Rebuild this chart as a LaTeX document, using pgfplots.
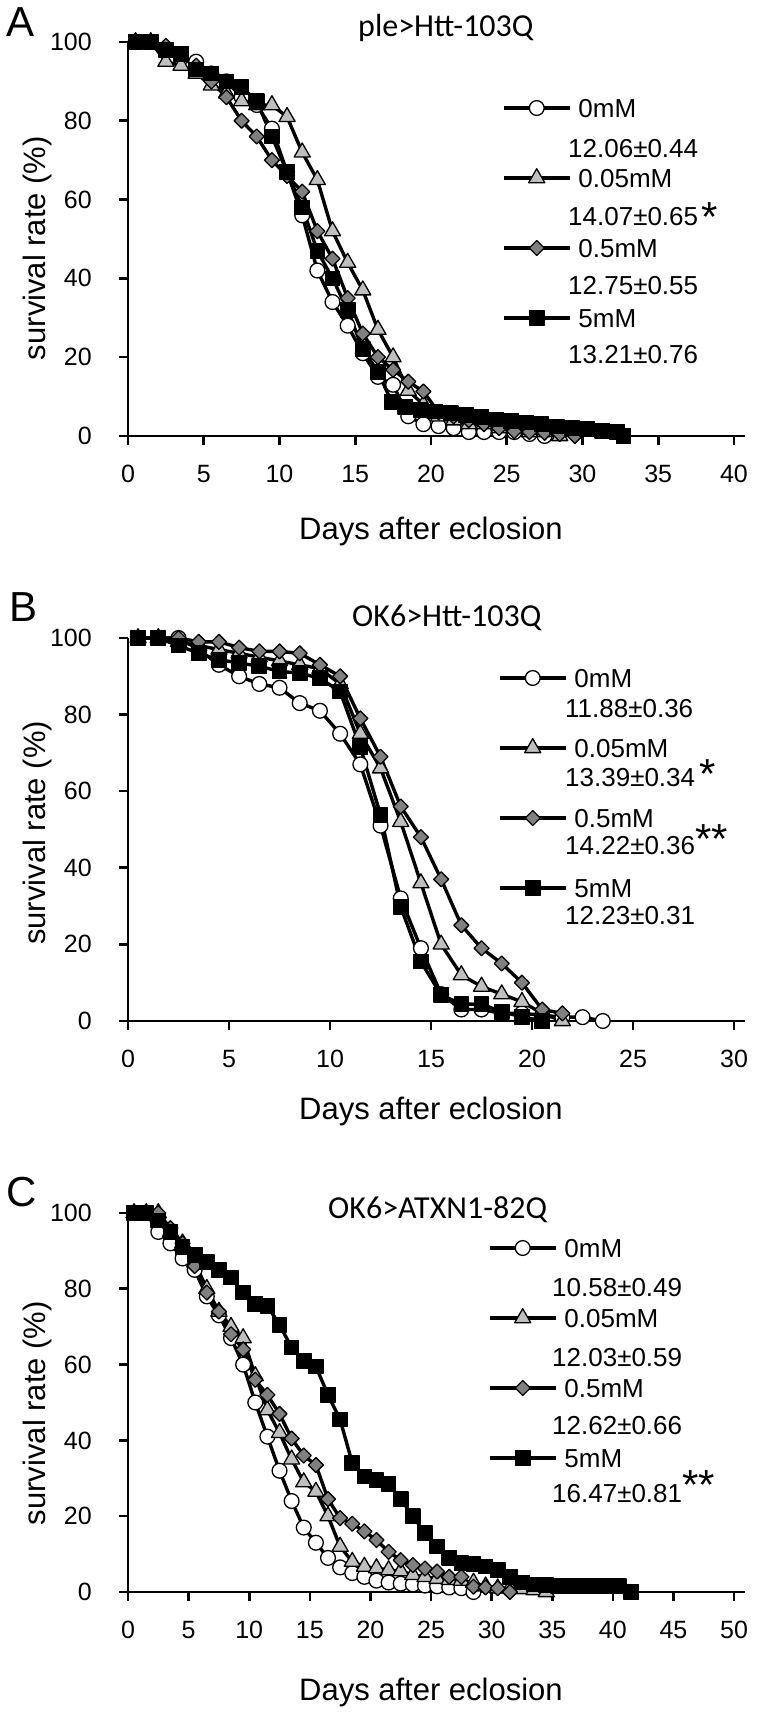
\documentclass[border=0pt]{standalone}
\usepackage{fontspec}
\setmainfont{Liberation Sans}
\newfontfamily\titlefont{Carlito}
\usepackage{pgfplots}
\pgfplotsset{compat=1.18}

\definecolor{lgray}{HTML}{BFBFBF}
\definecolor{dgray}{HTML}{808080}

\newcommand\fs[1]{\fontsize{#1}{#1}\selectfont}
\newcommand\sig[2]{\raisebox{#1}{\fs{42}#2}}

\pgfplotsset{
  panel/.style={
    scale only axis, width=617pt,
    xmin=0, ymin=0, ymax=100,
    axis x line*=bottom, axis y line*=left,
    axis line style={line width=2.6pt},
    tick style={line width=2.6pt, black},
    tick align=outside, major tick length=9pt,
    ytick={0,20,...,100},
    clip=false,
    ticklabel style={font=\fs{25}, inner sep=0pt},
    yticklabel shift=27pt, xticklabel shift=20pt,
    /pgf/number format/assume math mode=true,
    xlabel={Days after eclosion}, ylabel={survival rate (\%)},
    legend style={draw=none, fill=none, inner sep=0pt, outer sep=0pt,
      font=\fs{26}, anchor=north west,
      nodes={inner sep=0pt, anchor=base west, text height=19pt, text depth=0pt},
      column sep=7pt, row sep=51pt},
    legend cell align=left,
    legend image code/.code={\draw[mark repeat=2,mark phase=2,#1,yshift=9.3pt]
      plot coordinates {(0pt,0pt) (33pt,0pt) (66pt,0pt)};},
  },
  xlab/.style={every axis x label/.style={at={(axis description cs:0.491,0)},
      anchor=base, yshift=#1, font=\fs{31}, inner sep=0pt}},
  ylab/.style={every axis y label/.style={at={(axis description cs:-0.1345,#1)},
      rotate=90, anchor=base, font=\fs{31}, inner sep=0pt}},
  surv/.style={black, line width=3.4pt, line join=round},
  s0/.style={surv, mark=*, mark size=7.4pt, mark options={line width=1.3pt, draw=black, fill=white, solid}},
  s1/.style={surv, mark=triangle*, mark size=9.3pt, mark options={line width=1.3pt, draw=black, fill=lgray, solid}},
  s2/.style={surv, mark=square*, mark size=5.3pt, mark options={line width=1.3pt, draw=black, fill=dgray, solid, rotate=45}},
  s3/.style={surv, mark=square*, mark size=7.2pt, mark options={line width=1.3pt, draw=black, fill=black, solid}},
}

\begin{document}
\begin{tikzpicture}
\useasboundingbox (0pt,0pt) rectangle (761pt,1716pt);

% ---------------- A ----------------
\begin{axis}[panel, at={(128pt,1280pt)}, anchor=south west,
  height=394pt, xmax=40.73, xtick={0,5,...,40},
  xlab=-104pt, ylab=0.477,
  legend style={at={(axis description cs:0.6062,0.857)}}]
\addplot[s0] coordinates {(0.5,100)(1.5,100)(2.5,98)(3.5,96)(4.5,95)(5.5,92)(6.5,90)(7.5,86)(8.5,84)(9.5,78)(10.5,67)(11.5,56)(12.5,42)(13.5,34)(14.5,28)(15.5,21)(16.5,15)(17.5,13)(18.5,5)(19.5,3)(20.5,2.5)(21.5,2)(22.5,1)(23.5,1)(24.5,1)(25.5,1)(26.5,0.5)(27.5,0)};
\addlegendentry{0mM}
\addplot[s1] coordinates {(0.5,100)(1.5,100)(2.5,95)(3.5,94)(4.5,92)(5.5,89)(6.5,87)(7.5,85)(8.5,84)(9.5,84)(10.5,81)(11.5,72)(12.5,65)(13.5,52)(14.5,44)(15.5,37)(16.5,27)(17.5,20)(18.5,11.5)(19.5,8)(20.5,5)(21.5,4)(22.5,3)(23.5,3)(24.5,2)(25.5,2)(26.5,1)(27.5,1)(28.5,0)};
\addlegendentry{0.05mM}
\addplot[s2] coordinates {(0.5,100)(1.5,100)(2.5,99)(3.5,97)(4.5,94)(5.5,90)(6.5,86)(7.5,80)(8.5,76)(9.5,70)(10.5,66)(11.5,62)(12.5,52)(13.5,45)(14.5,35)(15.5,26)(16.5,20)(17.5,16.8)(18.5,13.8)(19.5,11.3)(20.5,6)(21.5,5)(22.5,4)(23.5,3)(24.5,2)(25.5,1.2)(26.5,1)(27.5,0.8)(28.5,0.5)(29.5,0)};
\addlegendentry{0.5mM}
\addplot[s3] coordinates {(0.5,100)(1.5,100)(2.5,98)(3.5,97)(4.5,93)(5.5,92)(6.5,90)(7.5,88.5)(8.5,85)(9.5,76)(10.5,67)(11.5,58)(12.5,47)(13.5,40)(14.5,32)(15.5,22)(16.5,16.3)(17.4,8.7)(18.3,7.4)(19.3,6.6)(20.3,6.2)(21.3,5.8)(22.3,5.4)(23.3,4.9)(24.3,4.2)(25.3,3.8)(26.3,3.4)(27.3,3)(28.3,2.4)(29.3,2.1)(30.3,1.7)(31.3,1.3)(32.3,1)(32.7,0)};
\addlegendentry{5mM}
\end{axis}

% ---------------- B ----------------
\begin{axis}[panel, at={(128pt,695pt)}, anchor=south west,
  height=383pt, xmax=30.54, xtick={0,5,...,30},
  xlab=-99pt, ylab=0.491,
  legend style={at={(axis description cs:0.5997,0.9209)}}]
\addplot[s0] coordinates {(0.5,100)(1.5,100)(2.5,100)(3.5,97)(4.5,93)(5.5,90)(6.5,88)(7.5,87)(8.5,83)(9.5,81)(10.5,75)(11.5,67)(12.5,51)(13.5,32)(14.5,19)(15.5,7)(16.5,3)(17.5,3)(18.5,2)(19.5,2)(20.5,1.5)(21.5,1)(22.5,1)(23.5,0)};
\addlegendentry{0mM}
\addplot[s1] coordinates {(0.5,100)(1.5,100)(2.5,99)(3.5,98)(4.5,97)(5.5,96)(6.5,95)(7.5,94)(8.5,93)(9.5,92)(10.5,88)(11.5,75)(12.5,66)(13.5,52)(14.5,36)(15.5,20)(16.5,12)(17.5,9)(18.5,7)(19.5,5)(20.5,2)(21.5,0)};
\addlegendentry{0.05mM}
\addplot[s2] coordinates {(0.5,100)(1.5,100)(2.5,100)(3.5,99)(4.5,99)(5.5,97.5)(6.5,96.5)(7.5,96.5)(8.5,96)(9.5,93)(10.5,90)(11.5,79)(12.5,69)(13.5,56)(14.5,48)(15.5,37)(16.5,25)(17.5,19)(18.5,15)(19.5,10)(20.5,3)(21.5,2)};
\addlegendentry{0.5mM}
\addplot[s3] coordinates {(0.5,100)(1.5,100)(2.5,98)(3.5,96)(4.5,94.3)(5.5,93.5)(6.5,92.6)(7.5,91.3)(8.5,90.8)(9.5,89.5)(10.5,86)(11.5,71.5)(12.5,53.8)(13.5,29.8)(14.5,15.5)(15.5,6.8)(16.5,4.4)(17.5,4.4)(18.5,2.4)(19.5,1.1)(20.5,0)};
\addlegendentry{5mM}
\end{axis}

% ---------------- C ----------------
\begin{axis}[panel, at={(128pt,124pt)}, anchor=south west,
  height=379pt, xmax=50.9, xtick={0,5,...,50},
  xlab=-108pt, ylab=0.472,
  legend style={at={(axis description cs:0.5835,0.9332)}}]
\addplot[s0] coordinates {(0.5,100)(1.5,100)(2.5,95)(3.5,92)(4.5,88)(5.5,85)(6.5,78)(7.5,73)(8.5,67)(9.5,60)(10.5,50)(11.5,41)(12.5,32)(13.5,24)(14.5,17)(15.5,13)(16.5,9)(17.5,6.5)(18.5,5)(19.5,4)(20.5,3)(21.5,2.5)(22.5,2.2)(23.5,2)(24.5,1.7)(25.5,1.5)(26.5,1.2)(27.5,1)(28.5,0)};
\addlegendentry{0mM}
\addplot[s1] coordinates {(0.5,100)(1.5,100)(2.5,100)(3.5,95)(4.5,92)(5.5,87)(6.5,80)(7.5,74)(8.5,70)(9.5,67)(10.5,57)(11.5,48)(12.5,42)(13.5,35)(14.5,29)(15.5,26.5)(16.5,20)(17.5,12)(18.5,8)(19.5,6.7)(20.5,6.3)(21.5,5.8)(22.5,5.5)(23.5,4.5)(24.5,4)(25.5,3.5)(26.5,3.2)(27.5,3)(28.5,2.5)(29.5,1.5)(30.5,1)(31.5,1)(32.5,0.8)(33.5,0.5)(34.5,0)};
\addlegendentry{0.05mM}
\addplot[s2] coordinates {(0.5,100)(1.5,100)(2.5,100)(3.5,96)(4.5,92)(5.5,86)(6.5,79)(7.5,74)(8.5,68)(9.5,64)(10.5,56)(11.5,52)(12.5,47)(13.5,40.5)(14.5,36)(15.5,33.5)(16.5,24.5)(17.5,19.5)(18.5,18)(19.5,16)(20.5,13.7)(21.5,10.6)(22.5,8.4)(23.5,7.1)(24.5,6.2)(25.5,5.4)(26.5,4)(27.5,4)(28.5,1.4)(29.5,1.2)(30.5,1)(31.5,0)};
\addlegendentry{0.5mM}
\addplot[s3] coordinates {(0.5,100)(1.5,100)(2.5,98)(3.5,95)(4.5,91)(5.5,89)(6.5,87)(7.5,85)(8.5,83)(9.5,79)(10.5,76)(11.5,75.5)(12.5,70.5)(13.5,64.5)(14.5,61)(15.5,59.5)(16.5,52)(17.5,45.5)(18.5,34)(19.5,30.5)(20.5,29.5)(21.5,28.5)(22.5,24.5)(23.5,20)(24.5,15.5)(25.5,12)(26.5,9)(27.5,7.6)(28.5,7.3)(29.5,6.7)(30.5,5.8)(31.5,4)(32.5,2.5)(33.5,2)(34.5,1.8)(35.5,1.5)(36.5,1.5)(37.5,1.5)(38.5,1.5)(39.5,1.5)(40.5,1.5)(41.5,0)};
\addlegendentry{5mM}
\end{axis}

% median survival values beside the legend rows
\begin{scope}[every node/.style={anchor=base west, inner sep=0pt, font=\fs{26}}]
\node at (568pt,1558.7pt) {12.06±0.44};
\node at (568pt,1490.7pt) {14.07±0.65\hspace{3pt}\sig{-6pt}{*}};
\node at (568pt,1421.7pt) {12.75±0.55};
\node at (568pt,1352.7pt) {13.21±0.76};
\node at (565pt,998.7pt) {11.88±0.36};
\node at (565pt,929.7pt) {13.39±0.34\hspace{4pt}\sig{-2pt}{*}};
\node at (565pt,861.7pt) {14.22±0.36\sig{1pt}{**}};
\node at (565pt,791.7pt) {12.23±0.31};
\node at (552pt,419.7pt) {10.58±0.49};
\node at (552pt,349.7pt) {12.03±0.59};
\node at (552pt,281.7pt) {12.62±0.66};
\node at (552pt,213.7pt) {16.47±0.81\sig{3pt}{**}};
\end{scope}

% panel letters and titles
\node[anchor=base west, inner sep=0pt, font=\fs{42}] at (6pt,1679pt) {A};
\node[anchor=base west, inner sep=0pt, font=\fs{42}] at (9pt,1094pt) {B};
\node[anchor=base west, inner sep=0pt, font=\fs{42}] at (6pt,509pt) {C};
\node[anchor=base west, inner sep=0pt, font=\titlefont\fs{32}] at (358pt,1679pt) {ple>Htt-103Q};
\node[anchor=base west, inner sep=0pt, font=\titlefont\fs{32}] at (352pt,1089pt) {OK6>Htt-103Q};
\node[anchor=base west, inner sep=0pt, font=\titlefont\fs{32}] at (328pt,497pt) {OK6>ATXN1-82Q};
\end{tikzpicture}
\end{document}
